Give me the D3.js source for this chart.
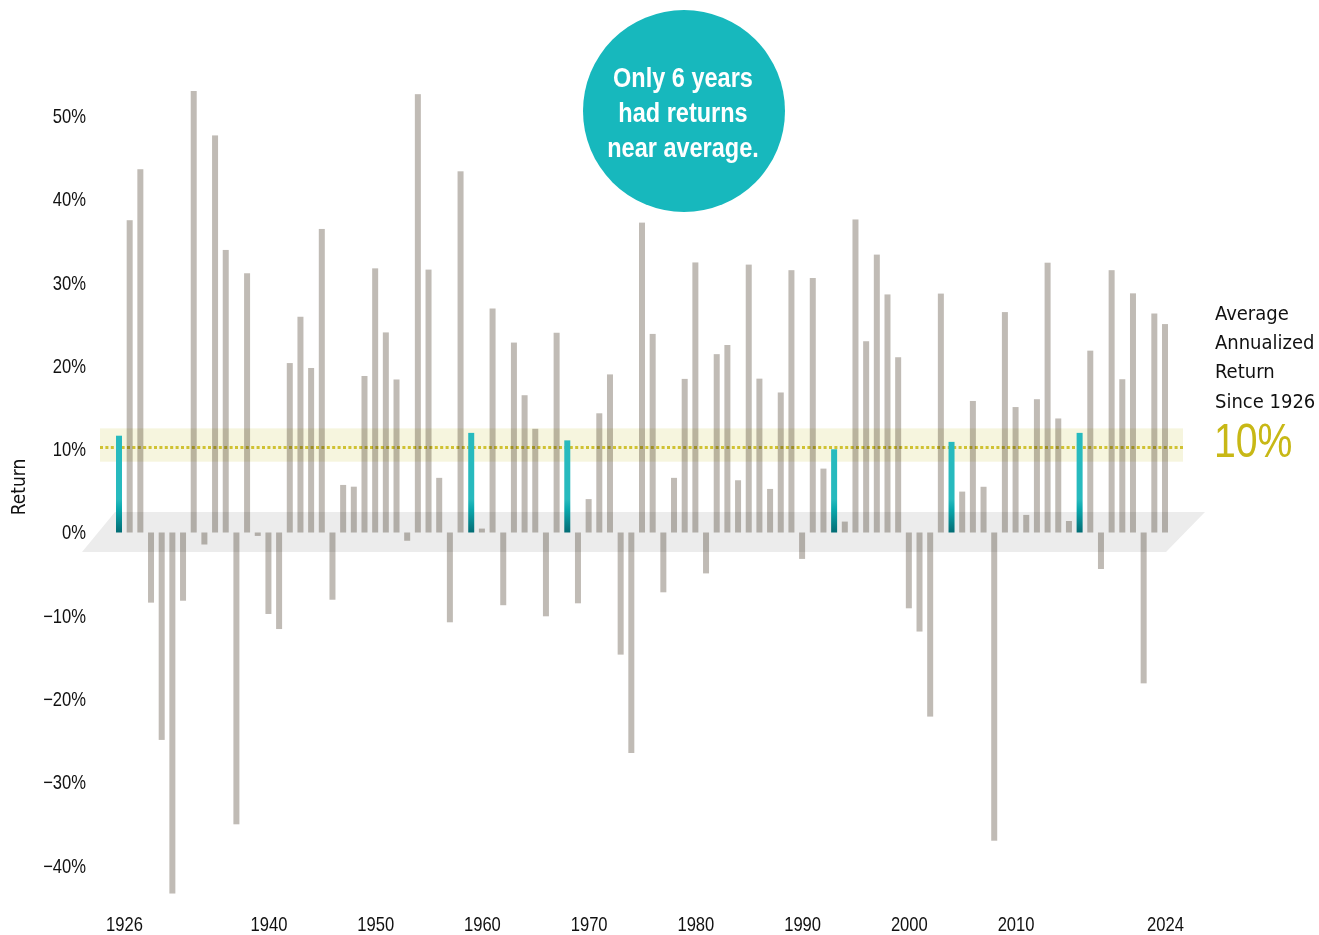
<!DOCTYPE html>
<html>
<head>
<meta charset="utf-8">
<script src="https://cdn.jsdelivr.net/npm/d3@7"></script>
<style>
  html, body { margin: 0; padding: 0; background: #fff; }
  svg { display: block; }
  .tick text { font-family: "Liberation Sans", Arial, sans-serif; font-size: 20px; fill: #111; }
</style>
</head>
<body>
<div id="chart"></div>
<script>
// S&P 500 calendar year returns (%), 1926 - 2024
var years = d3.range(1926, 2025);
var returns = [
  11.62, 37.49, 43.61, -8.42, -24.90, -43.34, -8.19, 53.0, -1.44, 47.67,
  33.92, -35.03, 31.12, -0.41, -9.78, -11.59, 20.34, 25.90, 19.75, 36.44,
  -8.07, 5.71, 5.50, 18.79, 31.71, 24.02, 18.37, -0.99, 52.62, 31.56,
  6.56, -10.78, 43.36, 11.96, 0.47, 26.89, -8.73, 22.80, 16.48, 12.45,
  -10.06, 23.98, 11.06, -8.50, 4.01, 14.31, 18.98, -14.66, -26.47, 37.20,
  23.84, -7.18, 6.56, 18.44, 32.42, -4.91, 21.41, 22.51, 6.27, 32.16,
  18.47, 5.23, 16.81, 31.49, -3.17, 30.55, 7.67, 9.99, 1.31, 37.58,
  22.96, 33.36, 28.58, 21.04, -9.10, -11.89, -22.10, 28.68, 10.88, 4.91,
  15.79, 5.49, -37.00, 26.46, 15.06, 2.11, 16.00, 32.39, 13.69, 1.38,
  11.96, 21.83, -4.38, 31.49, 18.40, 28.71, -18.11, 26.29, 25.02
];
// years whose return landed near the average
var nearAvgYears = [1926, 1959, 1968, 1993, 2004, 2016];
var yTicks = [-40, -30, -20, -10, 0, 10, 20, 30, 40, 50];
var xTicks = [1926, 1940, 1950, 1960, 1970, 1980, 1990, 2000, 2010, 2024];
var avgReturn = 10.2;
var nearBand = [8.5, 12.5];
var calloutLines = ["Only 6 years", "had returns", "near average."];
var legendLines = ["Average", "Annualized", "Return", "Since 1926"];
var legendValue = "10%";

var data = years.map(function(yr, i) {
  return { year: yr, value: returns[i], near: nearAvgYears.indexOf(yr) >= 0 };
});

var width = 1319, height = 935;
var barW = 6;
var grey = "#c0bbb5", teal = "#17b8bd", gold = "#c8b816";
var narrow = "scale(0.83,1)"; // no condensed face installed, squeeze the sans instead

var x = d3.scaleLinear().domain([1926, 2024]).range([119, 1165]);
var y = d3.scaleLinear().domain([0, 50]).range([532.5, 116]);

var svg = d3.select("#chart").append("svg")
  .attr("width", width)
  .attr("height", height);

var defs = svg.append("defs");
var grad = defs.append("linearGradient")
  .attr("id", "tealGrad")
  .attr("gradientUnits", "userSpaceOnUse")
  .attr("x1", 0).attr("x2", 0)
  .attr("y1", y(4)).attr("y2", y(0));
grad.append("stop").attr("offset", "0").attr("stop-color", "#27babe");
grad.append("stop").attr("offset", "0.3").attr("stop-color", "#0aa8ad");
grad.append("stop").attr("offset", "1").attr("stop-color", "#036c74");

// floor
var fTop = y(2.45), fBot = y(-2.35);
svg.append("path")
  .attr("d", "M" + (x(1926) - 4) + "," + fTop +
    "L" + (x(2024) + 40) + "," + fTop +
    "L" + (x(2024) + 1) + "," + fBot +
    "L" + (x(1926) - 37) + "," + fBot + "Z")
  .attr("fill", "#ececec");

// near-average band
svg.append("rect")
  .attr("x", 100)
  .attr("width", 1183 - 100)
  .attr("y", y(nearBand[1]))
  .attr("height", y(nearBand[0]) - y(nearBand[1]))
  .attr("fill", "#f6f5de");

// grey bars
svg.append("g")
  .selectAll("rect")
  .data(data.filter(function(d) { return !d.near; }))
  .enter().append("rect")
  .attr("x", function(d) { return x(d.year) - barW / 2; })
  .attr("width", barW)
  .attr("y", function(d) { return d.value >= 0 ? y(d.value) : y(0); })
  .attr("height", function(d) { return Math.abs(y(d.value) - y(0)); })
  .attr("fill", grey)
  .style("mix-blend-mode", "multiply");

// average line
svg.append("line")
  .attr("x1", 100).attr("x2", 1183)
  .attr("y1", y(avgReturn)).attr("y2", y(avgReturn))
  .attr("stroke", "#d8ca3a")
  .attr("stroke-width", 3)
  .attr("stroke-dasharray", "3,2.4")
  .style("mix-blend-mode", "multiply");

// near-average bars
svg.append("g")
  .selectAll("rect")
  .data(data.filter(function(d) { return d.near; }))
  .enter().append("rect")
  .attr("x", function(d) { return x(d.year) - barW / 2; })
  .attr("width", barW)
  .attr("y", function(d) { return y(d.value); })
  .attr("height", function(d) { return y(0) - y(d.value); })
  .attr("fill", "url(#tealGrad)");

// axes
var yAxis = svg.append("g")
  .attr("transform", "translate(86,0)")
  .call(d3.axisLeft(y).tickValues(yTicks).tickSize(0).tickPadding(0)
    .tickFormat(function(d) { return (d < 0 ? "\u2212" + (-d) : d) + "%"; }));
yAxis.select(".domain").remove();
yAxis.selectAll(".tick text").attr("transform", narrow);

var xAxis = svg.append("g")
  .attr("transform", "translate(0,917)")
  .call(d3.axisBottom(x).tickValues(xTicks).tickSize(0).tickPadding(0)
    .tickFormat(d3.format("d")));
xAxis.select(".domain").remove();
xAxis.selectAll(".tick text")
  .attr("dx", function(d) { return d === 1926 ? 6 : 0; })
  .attr("transform", narrow);

svg.append("text")
  .attr("transform", "translate(25,487) rotate(-90)")
  .attr("text-anchor", "middle")
  .style("font-family", "'DejaVu Sans Condensed', 'DejaVu Sans', sans-serif")
  .style("font-stretch", "condensed")
  .style("font-size", "19px")
  .attr("fill", "#111")
  .text("Return");

// callout circle
svg.append("circle")
  .attr("cx", 684).attr("cy", 111).attr("r", 101)
  .attr("fill", teal);
svg.append("g").selectAll("text")
  .data(calloutLines)
  .enter().append("text")
  .attr("transform", function(d, i) { return "translate(683," + (87 + i * 35) + ") scale(0.84,1)"; })
  .attr("text-anchor", "middle")
  .style("font-family", "'Liberation Sans', Arial, sans-serif")
  .style("font-weight", "bold")
  .style("font-size", "28px")
  .attr("fill", "#fff")
  .text(function(d) { return d; });

// legend
svg.append("g").selectAll("text")
  .data(legendLines)
  .enter().append("text")
  .attr("x", 1215)
  .attr("y", function(d, i) { return 320 + i * 29.2; })
  .style("font-family", "'DejaVu Sans Condensed', 'DejaVu Sans', sans-serif")
  .style("font-stretch", "condensed")
  .style("font-size", "20px")
  .attr("fill", "#111")
  .text(function(d) { return d; });
svg.append("text")
  .attr("transform", "translate(1214,457) scale(0.8,1)")
  .style("font-family", "'Liberation Sans', Arial, sans-serif")
  .style("font-size", "49px")
  .attr("fill", gold)
  .text(legendValue);
</script>
</body>
</html>
